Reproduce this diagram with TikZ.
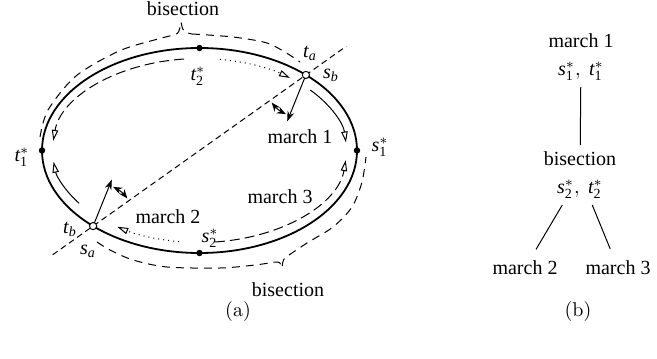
\documentclass[tikz,border=0pt]{standalone}
\usepackage{fontspec}
\setmainfont{Liberation Serif}
\newfontfamily\lmfont{Latin Modern Roman}
\usetikzlibrary{arrows.meta,calc,positioning}
\newcommand{\pv}[2]{\mathit{#1}_{\mathit{#2}}}
\newcommand{\pw}[2]{\mathit{#1}_{\mathrm{#2}}^{*}}

\begin{document}
\begin{tikzpicture}[x=0.5pt, y=-0.5pt,
    curve/.style={line width=0.9pt},
    guide/.style={line width=0.5pt, dash pattern=on 3pt off 2pt},
    bis/.style={line width=0.5pt, dash pattern=on 4pt off 3pt},
    walk/.style={line width=0.5pt, -{Triangle[open, length=5.5pt, width=3.2pt]}},
    dotwalk/.style={walk, dash pattern=on 0.5pt off 2pt},
    dashwalk/.style={walk, dash pattern=on 5pt off 2.5pt},
    dir/.style={line width=0.5pt, -{Stealth[length=5pt, width=3.5pt]}},
    turn/.style={line width=0.5pt, {Stealth[length=4.5pt, width=3.5pt]}-{Stealth[length=4.5pt, width=3.5pt]}},
    dot/.style={circle, fill, inner sep=0pt, minimum size=3.2pt},
    hole/.style={circle, draw, fill=white, line width=0.5pt, inner sep=0pt, minimum size=3.6pt},
    lbl/.style={inner sep=1pt},
    tree/.style={inner sep=3pt, align=center, font=\fontsize{10}{14}\selectfont}]
  \useasboundingbox (0,0) rectangle (657,358);
  \coordinate (c) at (199.5,150.5);

  % (a) the curve and its points
  \draw[curve] (c) ellipse[x radius=157.5, y radius=102.5];
  \coordinate (ta) at ($(c)+(-47.5:157.5 and 102.5)$);
  \coordinate (sa) at ($(c)+(132.5:157.5 and 102.5)$);
  \draw[guide] ($(sa)!-0.19!(ta)$) -- ($(ta)!-0.19!(sa)$);
  \node[dot] (t2) at ($(c)+(270:157.5 and 102.5)$) {};
  \node[dot] (t1) at ($(c)+(180:157.5 and 102.5)$) {};
  \node[dot] (s1) at ($(c)+(0:157.5 and 102.5)$) {};
  \node[dot] (s2) at ($(c)+(90:157.5 and 102.5)$) {};

  % inner walks
  \draw[dashwalk] ($(c)+(264:147 and 92)$) arc[start angle=264, end angle=186, x radius=147, y radius=92];
  \draw[walk] ($(c)+(145:147 and 92)$) arc[start angle=145, end angle=173, x radius=147, y radius=92];
  \draw[dotwalk] ($(c)+(278:147 and 92)$) arc[start angle=278, end angle=308, x radius=147, y radius=92];
  \draw[walk] ($(c)+(319:147 and 92)$) arc[start angle=319, end angle=355, x radius=147, y radius=92];
  \draw[dashwalk] ($(c)+(84:147 and 92)$) arc[start angle=84, end angle=6, x radius=147, y radius=92];
  \draw[dotwalk] ($(c)+(98:147 and 92)$) arc[start angle=98, end angle=124, x radius=147, y radius=92];

  % outer braces
  \draw[bis] plot[smooth] coordinates {(40,137) (48,110) (76,76) (119,51) (158,39) (174,35)}
    .. controls (179,33) .. (181,22) .. controls (183,32) .. (192,34);
  \draw[bis] plot[smooth] coordinates {(192,34) (233,37) (267,43) (288,54) (300,62)};
  \draw[bis] plot[smooth] coordinates {(97,242) (110,250) (133,260) (167,267) (220,268) (255,265) (275,262)}
    .. controls (280,262) .. (282,268) .. controls (283,259) .. (289,255);
  \draw[bis] plot[smooth] coordinates {(289,255) (307,243) (333,227) (352,207) (362,182) (366,157)};

  % turning directions
  \draw[dir] (ta) -- ($(ta)+(112:50)$);
  \draw[turn] ($(ta)+(141:44)$) arc[start angle=141, end angle=117, radius=44];
  \draw[dir] (sa) -- ($(sa)+(292:50)$);
  \draw[turn] ($(sa)+(-39:44)$) arc[start angle=-39, end angle=-63, radius=44];
  \node[hole] (pa) at (ta) {};
  \node[hole] (pb) at (sa) {};

  % labels
  \node[lbl] (bisa) at (183,9) {bisection};
  \node[lbl] (bisb) at (288,290) {bisection};
  \node[lbl] (lta) at (310,53) {$\pv{t}{a}$};
  \node[lbl] (lsb) at (331,75) {$\pv{s}{b}$};
  \node[lbl] (lsa) at (88,251) {$\pv{s}{a}$};
  \node[lbl] (ltb) at (70,229) {$\pv{t}{b}$};
  \node[lbl] (lt1) at (22,157) {$\pw{t}{1}$};
  \node[lbl] (lt2) at (198,76) {$\pw{t}{2}$};
  \node[lbl] (ls1) at (380,147) {$\pw{s}{1}$};
  \node[lbl] (ls2) at (210,238) {$\pw{s}{2}$};
  \node[lbl] (m1) at (300,137) {march 1};
  \node[lbl] (m2) at (168,217) {march 2};
  \node[lbl] (m3) at (280,197) {march 3};
  \node (capa) at (238,311) {\lmfont (a)};

  % (b) the tree
  \node[tree] (root) at (581,57) {march 1\\$\pw{s}{1},\ \pw{t}{1}$};
  \node[tree] (mid) at (580,175) {bisection\\$\pw{s}{2},\ \pw{t}{2}$};
  \node[tree] (lft) at (525,268) {march 2};
  \node[tree] (rgt) at (618,268) {march 3};
  \draw[line width=0.5pt] (root) -- (mid);
  \draw[line width=0.5pt, shorten >=3pt] (mid) -- (lft);
  \draw[line width=0.5pt, shorten >=3pt] (mid) -- (rgt);
  \node (capb) at (578,311) {\lmfont (b)};
\end{tikzpicture}
\end{document}
